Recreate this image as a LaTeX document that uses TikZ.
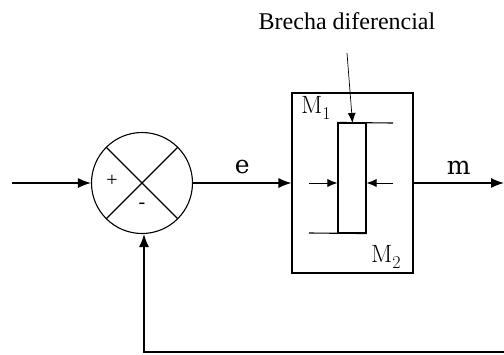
\documentclass[tikz,border=0pt]{standalone}
\usepackage[no-math]{fontspec}
\setmainfont{Liberation Serif}
\newfontfamily\sigfont{DejaVu Serif}
\newfontfamily\lmfont{Latin Modern Roman}
\usetikzlibrary{arrows.meta}
\tikzset{
  signal/.style={line width=1.3pt,-{Latex[length=13pt,width=10pt]}},
  gaparrow/.style={line width=0.7pt,-{Latex[length=10pt,width=8pt]}},
  siglabel/.style={font=\sigfont\fontsize{25}{30}\selectfont},
  masslabel/.style={font=\lmfont\fontsize{25}{30}\selectfont},
}
\newcommand{\massname}[1]{M\raisebox{-0.22em}{\fontsize{18}{20}\selectfont #1}}
\begin{document}
\begin{tikzpicture}[x=1pt,y=-1pt,line width=1.1pt]
\useasboundingbox (0,0) rectangle (504,354);
% summing junction
\node[circle,draw,minimum size=101pt,inner sep=0pt] (sum) at (142,183) {};
\draw (sum.45) -- (sum.225);
\draw (sum.135) -- (sum.315);
\node at (112,181) {\fontsize{20}{24}\selectfont +};
\node at (142,206) {\fontsize{20}{24}\selectfont -};
% controller with differential gap
\node[draw,minimum width=121pt,minimum height=180pt,inner sep=0pt] (ctrl) at (352.5,183) {};
\node[draw,minimum width=28pt,minimum height=110pt,inner sep=0pt] (gap) at (352,178) {};
\coordinate (top) at (393,123);
\coordinate (bot) at (309,233);
\draw (gap.north west) -- (top);
\draw (bot) -- (gap.south east);
\coordinate (lin) at (309,183);
\coordinate (rin) at (393,183);
\draw[gaparrow] (lin) -- (gap.west |- lin);
\draw[gaparrow] (rin) -- (gap.east |- rin);
\node[masslabel] at (316,108) {\massname{1}};
\node[masslabel] at (386,257) {\massname{2}};
% note
\node (note) at (347,21) {\fontsize{24}{28}\selectfont Brecha diferencial};
\coordinate (notetail) at (347,53);
\draw[gaparrow] (notetail) -- (352.5,123);
% signals
\coordinate (in) at (12,183);
\coordinate (out) at (504,183);
\draw[signal] (in) -- (sum);
\draw[signal] (sum) -- (ctrl) node[midway,above=5pt,siglabel] {e};
\draw[signal] (ctrl) -- (out) node[midway,above=5pt,siglabel] {m};
% feedback
\coordinate (fbstart) at (504,352);
\coordinate (fbturn) at (144,352);
\draw[signal] (fbstart) -- (fbturn) -- (sum.south -| fbturn);
\end{tikzpicture}
\end{document}
